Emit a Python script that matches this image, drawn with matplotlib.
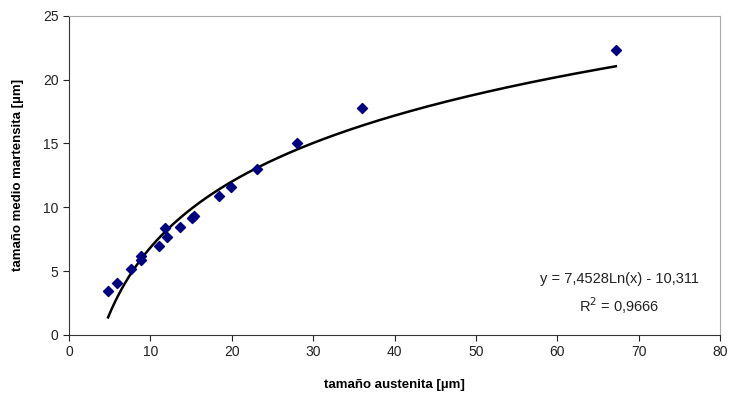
import numpy as np
import matplotlib.pyplot as plt

plt.rcParams['font.family'] = ['Liberation Sans', 'DejaVu Sans']

# austenite grain size vs mean martensite size
x = [4.8, 5.9, 7.6, 8.8, 8.9, 11.0, 11.8, 12.1, 13.7, 15.1, 15.4, 18.4, 19.9, 23.1, 28.0, 36.0, 67.2]
y = [3.45, 4.1, 5.2, 6.2, 5.9, 7.0, 8.35, 7.65, 8.45, 9.2, 9.35, 10.9, 11.6, 13.0, 15.0, 17.75, 22.3]

# logarithmic trend line from the chart
a = 7.4528
b = -10.311
xt = np.linspace(min(x), max(x), 300)
yt = a * np.log(xt) + b

fig = plt.figure(figsize=(7.31, 4.0), dpi=100)
ax = fig.add_axes([0.0944, 0.1625, 0.8906, 0.798])

ax.plot(xt, yt, color='black', lw=1.8, zorder=2)
ax.scatter(x, y, marker='D', s=26, color='#000080', zorder=3)

ax.set_xlim(0, 80)
ax.set_ylim(0, 25)
ax.set_xticks(range(0, 81, 10))
ax.set_yticks(range(0, 26, 5))
ax.tick_params(direction='out', length=4, labelsize=10, colors='#222222')
for s in ['left', 'bottom']:
    ax.spines[s].set_color('#333333')
for s in ['top', 'right']:
    ax.spines[s].set_color('#aaaaaa')

ax.set_xlabel('tamaño austenita [µm]', fontsize=9.5, fontweight='bold', labelpad=14)
ax.set_ylabel('tamaño medio martensita [µm]', fontsize=9.5, fontweight='bold', labelpad=14)

ax.text(0.847, 0.265, 'y = 7,4528Ln(x) - 10,311\nR$^2$ = 0,9666', transform=fig.transFigure,
        ha='center', va='center', fontsize=10.5, color='#222222', linespacing=1.5)

fig.savefig('out.png', dpi=100)
